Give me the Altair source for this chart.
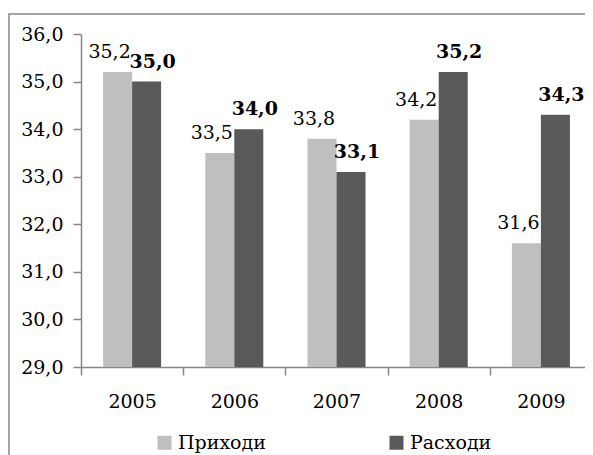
import altair as alt
import pandas as pd

years = ["2005", "2006", "2007", "2008", "2009"]
prihodi = [35.2, 33.5, 33.8, 34.2, 31.6]
rashodi = [35.0, 34.0, 33.1, 35.2, 34.3]
series = ["Приходи", "Расходи"]
colors = ["#BFBFBF", "#595959"]
y_ticks = [29, 30, 31, 32, 33, 34, 35, 36]

rows = []
for i, yr in enumerate(years):
    rows.append({"year": yr, "series": series[0], "value": prihodi[i]})
    rows.append({"year": yr, "series": series[1], "value": rashodi[i]})
df = pd.DataFrame(rows)

FONT = "DejaVu Serif, serif"
AX = "#868686"
FS = 19
fmt = "replace(format(datum.value, '.1f'), '.', ',')"

x = alt.X(
    "year:N", sort=years,
    scale=alt.Scale(paddingInner=0, paddingOuter=0, range=[0, 511]),
    axis=alt.Axis(title=None, labelAngle=0, tickBand="extent", domainColor=AX,
                  tickColor=AX, tickSize=8, labelFont=FONT, labelFontSize=FS,
                  labelColor="#000", labelBaseline="alphabetic", labelPadding=32,
                  domainWidth=1.5, tickWidth=1.5),
)
xo = alt.XOffset("series:N", sort=series,
                 scale=alt.Scale(paddingOuter=0.762, paddingInner=0))
y = alt.Y(
    "value:Q",
    scale=alt.Scale(domain=[29, 36], nice=False, zero=False),
    axis=alt.Axis(title=None, values=y_ticks, grid=False, labelExpr=fmt,
                  domainColor=AX, tickColor=AX, tickSize=8, labelPadding=10,
                  labelFont=FONT, labelFontSize=FS, labelColor="#000",
                  domainWidth=1.5, tickWidth=1.5),
)

base = alt.Chart(df).transform_calculate(label=fmt)

bars = base.mark_bar(clip=True).encode(
    x=x, xOffset=xo, y=y,
    color=alt.Color(
        "series:N", sort=series,
        scale=alt.Scale(domain=series, range=colors),
        legend=alt.Legend(orient="none", legendX=74, legendY=399,
                          direction="horizontal", title=None, symbolType="square",
                          symbolSize=196, symbolStrokeWidth=0, labelFont=FONT,
                          labelFontSize=FS, labelColor="#000", columnPadding=121,
                          labelOffset=4, padding=0),
    ),
)

text_p = base.transform_filter(alt.datum.series == series[0]).mark_text(
    font=FONT, fontSize=FS, baseline="alphabetic", dy=-14, dx=-8, color="#000"
).encode(x=x, xOffset=xo, y=y, text="label:N")

text_r = base.transform_filter(alt.datum.series == series[1]).mark_text(
    font=FONT, fontSize=FS, fontWeight="bold", baseline="alphabetic", dy=-14,
    dx=6, color="#000"
).encode(x=x, xOffset=xo, y=y, text="label:N")

frame = alt.Chart(pd.DataFrame({"a": [0]})).mark_rect(
    fillOpacity=0, stroke=AX, strokeWidth=1.5
).encode(x=alt.value(-72), x2=alt.value(620), y=alt.value(-20), y2=alt.value(520))

chart = alt.layer(frame, bars, text_p, text_r).properties(
    width=504, height=333,
    autosize=alt.AutoSizeParams(type="none"),
    padding={"left": 73, "top": 26, "right": 0, "bottom": 88},
).configure_view(stroke=None)

chart.save("out.html", embed_options={"renderer": "svg", "actions": False})
